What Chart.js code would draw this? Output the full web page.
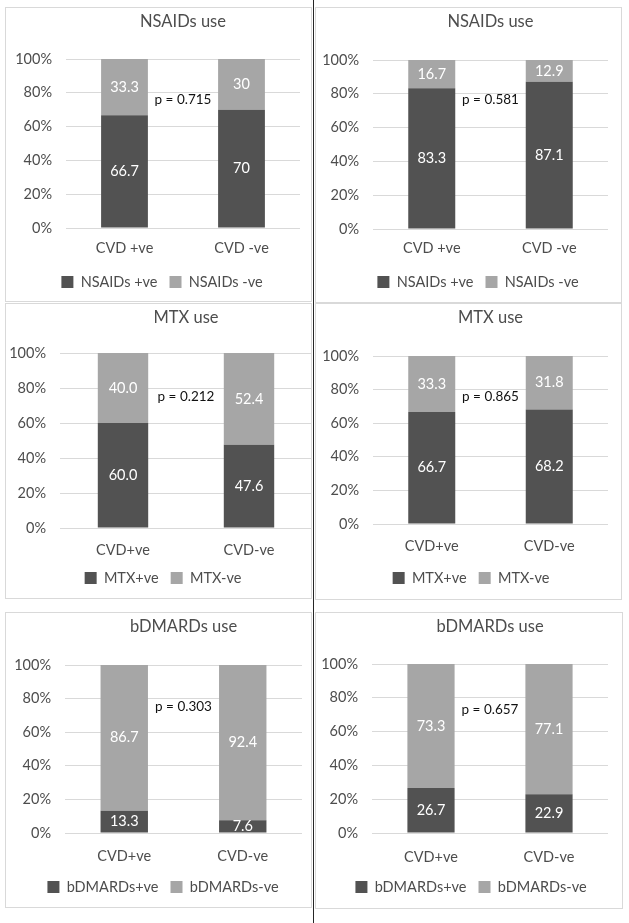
<!DOCTYPE html>
<html>
<head>
<meta charset="utf-8">
<script src="https://cdn.jsdelivr.net/npm/chart.js@4"></script>
<style>
  html, body { margin: 0; padding: 0; background: #fff; }
  #wrap { position: relative; width: 629px; height: 923px; overflow: hidden; background: #fff; }
  .panel { position: absolute; box-sizing: border-box; border: 1px solid #d9d9d9; }
  canvas { position: absolute; }
  #vline { position: absolute; left: 313px; top: 0; width: 1px; height: 923px; background: #262626; }
</style>
</head>
<body>
<div id="wrap"><div id="vline"></div></div>
<script>
// ---------- data ----------
const catsSpaced = ["CVD +ve", "CVD -ve"];
const catsTight = ["CVD+ve", "CVD-ve"];

const nsaidsTitle = "NSAIDs use";
const nsaidsSeries = ["NSAIDs +ve", "NSAIDs -ve"];
const nsaidsAPos = ["66.7", "70"];
const nsaidsANeg = ["33.3", "30"];
const nsaidsAP = "p = 0.715";
const nsaidsBPos = ["83.3", "87.1"];
const nsaidsBNeg = ["16.7", "12.9"];
const nsaidsBP = "p = 0.581";

const mtxTitle = "MTX use";
const mtxSeries = ["MTX+ve", "MTX-ve"];
const mtxAPos = ["60.0", "47.6"];
const mtxANeg = ["40.0", "52.4"];
const mtxAP = "p = 0.212";
const mtxBPos = ["66.7", "68.2"];
const mtxBNeg = ["33.3", "31.8"];
const mtxBP = "p = 0.865";

const bdTitle = "bDMARDs use";
const bdSeries = ["bDMARDs+ve", "bDMARDs-ve"];
const bdAPos = ["13.3", "7.6"];
const bdANeg = ["86.7", "92.4"];
const bdAP = "p = 0.303";
const bdBPos = ["26.7", "22.9"];
const bdBNeg = ["73.3", "77.1"];
const bdBP = "p = 0.657";

const yTicks = [0, 20, 40, 60, 80, 100];

// ---------- layout (panel boxes and plot areas, canvas-relative) ----------
const panels = [
  { box: {x:5,   y:7,   w:307, h:295}, area: {l:61, r:295, t:52, b:221}, titleY:15, xLabY:241, legY:275, legX:157, pY:75.7,
    title: nsaidsTitle, cats: catsSpaced, series: nsaidsSeries, pos: nsaidsAPos, neg: nsaidsANeg, p: nsaidsAP },
  { box: {x:315, y:7,   w:307, h:296}, area: {l:58, r:293, t:53, b:222}, titleY:15, xLabY:241, legY:275, legX:163, pY:76.3,
    title: nsaidsTitle, cats: catsSpaced, series: nsaidsSeries, pos: nsaidsBPos, neg: nsaidsBNeg, p: nsaidsBP },
  { box: {x:5,   y:303, w:307, h:296}, area: {l:55, r:307, t:50, b:225}, titleY:15, xLabY:247, legY:275, legX:158, pY:75.0,
    title: mtxTitle, cats: catsTight, series: mtxSeries, pos: mtxAPos, neg: mtxANeg, p: mtxAP },
  { box: {x:315, y:303, w:307, h:297}, area: {l:58, r:293, t:53, b:221}, titleY:15, xLabY:243, legY:275, legX:156, pY:75.8,
    title: mtxTitle, cats: catsTight, series: mtxSeries, pos: mtxBPos, neg: mtxBNeg, p: mtxBP },
  { box: {x:5,   y:612, w:307, h:296}, area: {l:60, r:297, t:53, b:221}, titleY:15, xLabY:244, legY:275, legX:158, pY:75.2,
    title: bdTitle, cats: catsTight, series: bdSeries, pos: bdAPos, neg: bdANeg, p: bdAP },
  { box: {x:315, y:612, w:308, h:297}, area: {l:57, r:293, t:52, b:221}, titleY:15, xLabY:245, legY:275, legX:156, pY:73.2,
    title: bdTitle, cats: catsTight, series: bdSeries, pos: bdBPos, neg: bdBNeg, p: bdBP }
];

// ---------- styles ----------
const FONT = "Lato, 'Open Sans', sans-serif";
const DARK = "#525252";
const LIGHT = "#a6a6a6";
const TEXT = "#4d4d4d";
const GRID = "#d9d9d9";
const TITLE_SIZE = 16.5, TICK_SIZE = 14.5, LEG_SIZE = 14.5, LABEL_SIZE = 14.5, P_SIZE = 13.5;

// ---------- plugins ----------
const segLabels = {
  id: 'segLabels',
  afterDatasetsDraw(chart) {
    const { ctx, chartArea } = chart;
    ctx.save();
    ctx.beginPath();
    ctx.rect(chartArea.left, chartArea.top, chartArea.right - chartArea.left, chartArea.bottom - chartArea.top);
    ctx.clip();
    ctx.fillStyle = "#ffffff";
    ctx.font = LABEL_SIZE + "px " + FONT;
    ctx.textAlign = "center";
    ctx.textBaseline = "middle";
    chart.data.datasets.forEach((ds, di) => {
      const meta = chart.getDatasetMeta(di);
      meta.data.forEach((bar, i) => {
        const p = bar.getProps(['x', 'y', 'base'], true);
        ctx.fillText(String(ds.data[i]), p.x, (p.y + p.base) / 2);
      });
    });
    ctx.restore();
  }
};
const pNote = {
  id: 'pNote',
  afterDraw(chart, args, opts) {
    const { ctx } = chart;
    const x = chart.scales.x.getPixelForValue(0.5);
    const y = chart.scales.y.getPixelForValue(opts.value);
    ctx.save();
    ctx.fillStyle = "#111111";
    ctx.font = P_SIZE + "px " + FONT;
    ctx.textAlign = "center";
    ctx.textBaseline = "middle";
    ctx.fillText(opts.text, x, y);
    ctx.restore();
  }
};
// shifts the legend horizontally so its centre sits where the reference has it
const legendShift = {
  id: 'legendShift',
  afterLayout(chart, args, opts) {
    const lg = chart.legend;
    if (!lg) return;
    const shift = opts.center - (lg.left + lg.right) / 2;
    lg.left += shift; lg.right += shift;
    if (lg.legendHitBoxes) lg.legendHitBoxes.forEach(h => { h.left += shift; });
  }
};

// ---------- build ----------
const wrap = document.getElementById('wrap');
panels.forEach(pn => {
  const b = pn.box, a = pn.area;
  const div = document.createElement('div');
  div.className = 'panel';
  div.style.left = b.x + 'px'; div.style.top = b.y + 'px';
  div.style.width = b.w + 'px'; div.style.height = b.h + 'px';
  wrap.appendChild(div);
  const cv = document.createElement('canvas');
  cv.width = b.w; cv.height = b.h;
  cv.style.left = b.x + 'px'; cv.style.top = b.y + 'px';
  cv.style.width = b.w + 'px'; cv.style.height = b.h + 'px';
  wrap.appendChild(cv);

  const titleLH = TITLE_SIZE * 1.2;
  const tickLH = TICK_SIZE * 1.2;
  const legPad = 12;
  const itemH = LEG_SIZE;
  const legH = itemH + legPad + 10;
  const padBottom = b.h - pn.legY - 10 - itemH / 2;
  const xAxisH = b.h - padBottom - legH - a.b;

  new Chart(cv, {
    type: 'bar',
    data: {
      labels: pn.cats,
      datasets: [
        { label: pn.series[0], data: pn.pos, backgroundColor: DARK, borderWidth: 0 },
        { label: pn.series[1], data: pn.neg, backgroundColor: LIGHT, borderWidth: 0 }
      ]
    },
    options: {
      responsive: false,
      animation: false,
      devicePixelRatio: 1,
      layout: { padding: { left: 0, right: b.w - a.r, top: 0, bottom: padBottom } },
      datasets: { bar: { categoryPercentage: 1.0, barPercentage: 0.4 } },
      scales: {
        x: {
          stacked: true,
          grid: { display: false, drawTicks: false },
          border: { display: false },
          ticks: { color: TEXT, font: { family: FONT, size: TICK_SIZE }, padding: pn.xLabY - a.b - tickLH / 2, maxRotation: 0 },
          afterFit: s => { s.height = xAxisH; }
        },
        y: {
          stacked: true,
          min: 0, max: 100,
          afterBuildTicks: s => { s.ticks = yTicks.map(v => ({ value: v })); },
          grid: { color: GRID, lineWidth: 1, drawTicks: false },
          border: { display: false },
          ticks: { color: TEXT, font: { family: FONT, size: TICK_SIZE }, padding: 14, callback: v => v + '%' },
          afterFit: s => { s.width = a.l; }
        }
      },
      plugins: {
        title: {
          display: true, text: pn.title, fullSize: false, color: TEXT,
          font: { family: FONT, size: TITLE_SIZE, weight: 'normal' },
          padding: { top: pn.titleY - titleLH / 2, bottom: a.t - pn.titleY - titleLH / 2 }
        },
        legend: {
          position: 'bottom',
          labels: { color: TEXT, font: { family: FONT, size: LEG_SIZE }, boxWidth: 12, boxHeight: 12, padding: legPad }
        },
        tooltip: { enabled: false },
        pNote: { text: pn.p, value: pn.pY },
        legendShift: { center: pn.legX }
      }
    },
    plugins: [segLabels, pNote, legendShift]
  });
});
</script>
</body>
</html>
